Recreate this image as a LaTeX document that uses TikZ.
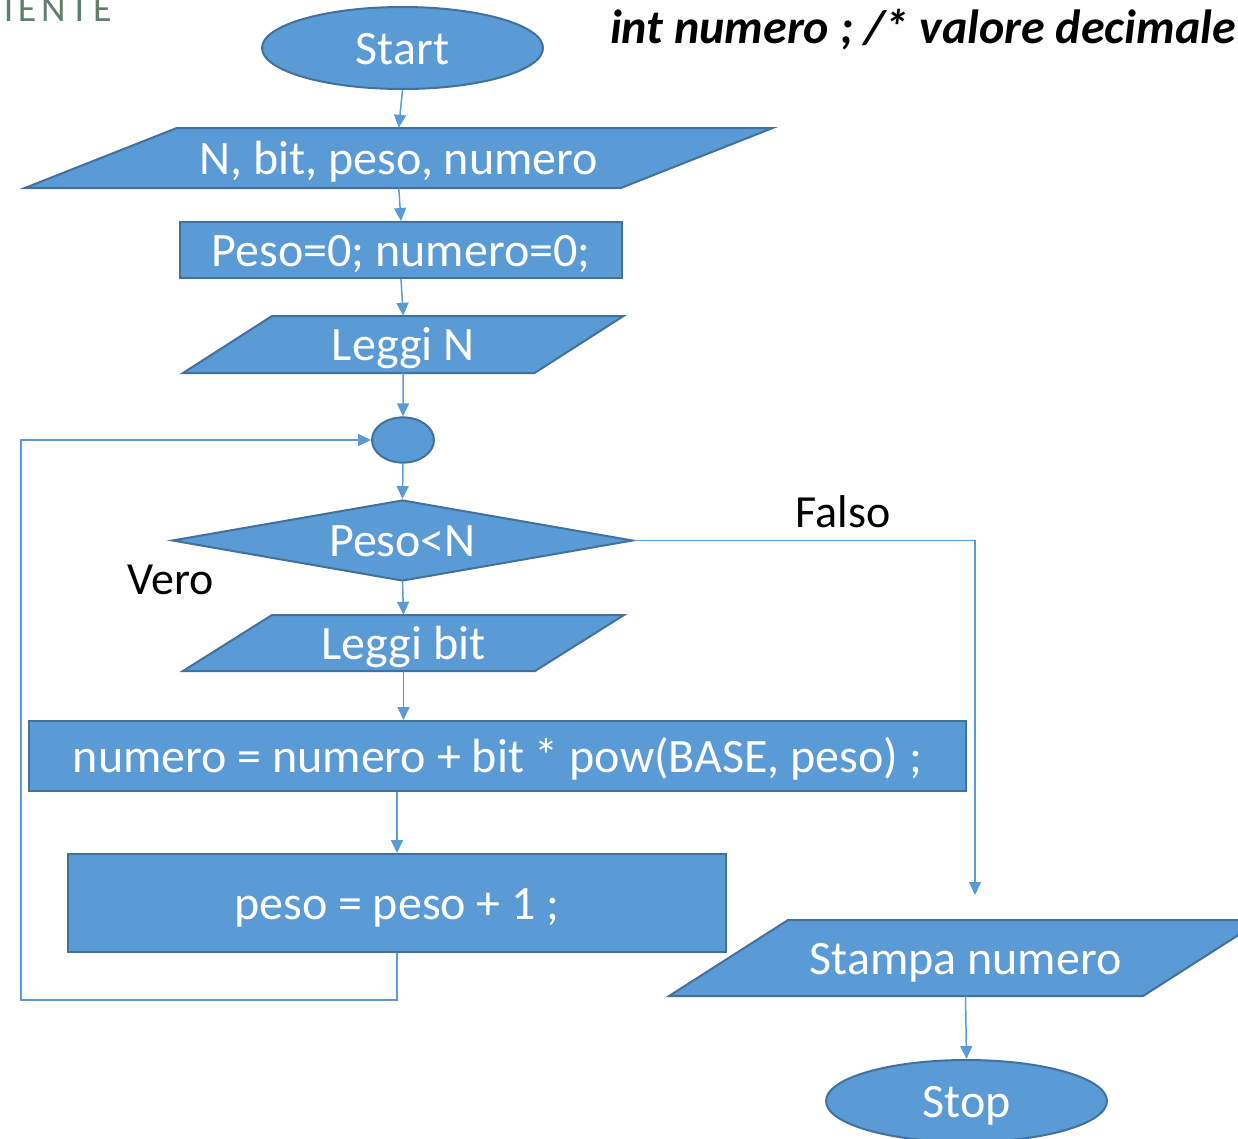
\documentclass[tikz,border=0pt]{standalone}
\usepackage{fontspec}
\setmainfont{Carlito}
\usetikzlibrary{shapes.geometric,arrows.meta}
\definecolor{boxfill}{HTML}{5B9BD5}
\definecolor{boxline}{HTML}{41719C}
\definecolor{flow}{HTML}{5B9BD5}
\definecolor{header}{HTML}{5E7F6E}
\newcommand\bigtext{\fontsize{48}{54}\selectfont}
\tikzset{
  shapebox/.style={fill=boxfill, draw=boxline, line width=2pt, inner sep=0pt,
    text=white, font=\bigtext, text height=32pt, text depth=0pt},
  termbox/.style={shapebox, ellipse},
  procbox/.style={shapebox, rectangle},
  testbox/.style={shapebox, diamond, aspect=5.7},
  iotext/.style={rectangle, inner sep=0pt, text=white, font=\bigtext,
    text height=32pt, text depth=0pt},
  arr/.style={draw=flow, line width=1.5pt, -{Triangle[length=13pt,width=12pt]}},
  flowlbl/.style={text=black, font=\fontsize{46}{52}\selectfont, inner sep=0pt}
}
% input/output parallelogram: name, cx, cy, edge length, height, slant, text
\newcommand\iobox[7]{%
  \filldraw[fill=boxfill, draw=boxline, line width=2pt, line join=miter]
    ({#2-#4/2+#6/2},{#3-#5/2}) -- ({#2+#4/2+#6/2},{#3-#5/2}) --
    ({#2+#4/2-#6/2},{#3+#5/2}) -- ({#2-#4/2-#6/2},{#3+#5/2}) -- cycle;
  \node[iotext, minimum width=#4, minimum height=#5] (#1) at (#2,#3) {#7};}
\begin{document}
\begin{tikzpicture}[x=1pt,y=-1pt]
\useasboundingbox (0,0) rectangle (1238,1138);
\clip (0,0) rectangle (1238,1138);

% header fragments
\node[anchor=base east, text=header, inner sep=0pt,
  font=\fontsize{38}{42}\selectfont\addfontfeature{LetterSpace=12}] (hdr) at (112,21) {IENTE};
\node[anchor=base east, inner sep=0pt, font=\fontsize{48}{54}\selectfont\bfseries\itshape]
  (decl) at (1236,43) {int numero ; /* valore decimale};

% flow shapes
\node[termbox, minimum width=281, minimum height=82] (start) at (402.5,48) {Start};
\iobox{vars}{398.75}{158}{596}{60}{152}{N, bit, peso, numero}
\node[procbox, minimum width=442, minimum height=56] (init) at (401,250) {Peso=0; numero=0;};
\iobox{readn}{403.25}{344.5}{351.5}{57}{89}{Leggi N}
\node[shapebox, ellipse, minimum width=62, minimum height=42] (join) at (403,440) {};
\node[testbox, minimum width=461, minimum height=81] (test) at (402.5,540.5) {Peso<N};
\iobox{readbit}{403.5}{643}{352}{56}{89}{Leggi bit}
\node[procbox, minimum width=937, minimum height=70] (accum) at (497.5,756)
  {numero = numero + bit * pow(BASE, peso) ;};
\node[procbox, minimum width=658, minimum height=98] (incr) at (397,903) {peso = peso + 1 ;};
\iobox{print}{965.5}{958}{474}{76}{119}{Stampa numero}
\node[termbox, minimum width=281, minimum height=82] (stop) at (966.5,1101) {Stop};

% branch labels
\node[flowlbl] (lfalse) at (843,512) {Falso};
\node[flowlbl] (ltrue) at (171,580) {Vero};

% connectors
\coordinate (back) at (21,1000);
\coordinate (fend) at (975,895);
\draw[arr] (start.south) -- (vars.north);
\draw[arr] (vars.south) -- (init.north);
\draw[arr] (init.south) -- (readn.north);
\draw[arr] (readn.south) -- (join.north);
\draw[arr] (join.south) -- (test.north);
\draw[arr] (test.south) -- (readbit.north);
\draw[arr] (readbit.south) -- (readbit.south |- accum.north);
\draw[arr] (incr.north |- accum.south) -- (incr.north);
\draw[arr] (incr.south) |- (back) |- (join.west);
\draw[arr] (test.east) -| (fend);
\draw[arr] (print.south) -- (stop.north);
\end{tikzpicture}
\end{document}
